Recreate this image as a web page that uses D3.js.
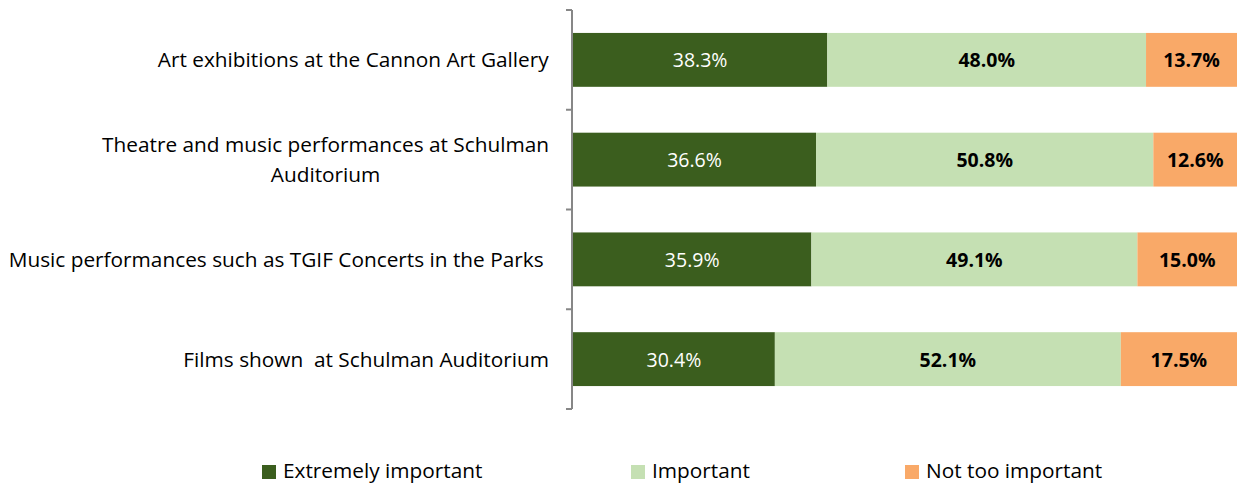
<!DOCTYPE html>
<html>
<head>
<meta charset="utf-8">
<script src="https://cdn.jsdelivr.net/npm/d3@7"></script>
<style>
  html, body { margin: 0; padding: 0; background: #fff; }
  svg { display: block; font-family: "Open Sans", Lato, sans-serif; }
</style>
</head>
<body>
<svg id="chart" width="1239" height="484"></svg>
<script>
// Survey categories (top to bottom)
const categories = [
  ["Art exhibitions at the Cannon Art Gallery"],
  ["Theatre and music performances at Schulman", "Auditorium"],
  ["Music performances such as TGIF Concerts in the Parks\u00a0"],
  ["Films shown\u00a0 at Schulman Auditorium"]
];
const seriesNames = ["Extremely important", "Important", "Not too important"];
const extremelyImportant = [38.3, 36.6, 35.9, 30.4];
const important = [48.0, 50.8, 49.1, 52.1];
const notTooImportant = [13.7, 12.6, 15.0, 17.5];
const colors = ["#3B5E1E", "#C5E0B3", "#F9A968"];

(function draw() {
  const svg = d3.select("#chart");
  const plotLeft = 573, plotRight = 1237, plotTop = 10, plotBottom = 409;

  const rows = categories.map((c, i) => ({
    key: i,
    label: c,
    values: [extremelyImportant[i], important[i], notTooImportant[i]]
  }));

  const x = d3.scaleLinear().domain([0, 100]).range([plotLeft, plotRight]);
  const y = d3.scaleBand().domain(rows.map(r => r.key)).range([plotTop, plotBottom])
    .paddingInner(0.46).paddingOuter(0.23);

  // stacked segments
  const stack = d3.stack().keys([0, 1, 2]).value((d, k) => d.values[k]);
  const layers = stack(rows);

  const g = svg.append("g");
  layers.forEach((layer, k) => {
    g.selectAll(null).data(layer).enter().append("rect")
      .attr("x", d => x(d[0]))
      .attr("y", d => y(d.data.key))
      .attr("width", d => x(d[1]) - x(d[0]))
      .attr("height", y.bandwidth())
      .attr("fill", colors[k]);
    g.selectAll(null).data(layer).enter().append("text")
      .attr("x", d => (x(d[0]) + x(d[1])) / 2)
      .attr("y", d => y(d.data.key) + y.bandwidth() / 2)
      .attr("dy", "0.38em")
      .attr("text-anchor", "middle")
      .attr("font-size", 19.5)
      .attr("font-weight", k === 0 ? "normal" : "bold")
      .attr("fill", k === 0 ? "#ffffff" : "#000000")
      .text(d => d.data.values[k].toFixed(1) + "%");
  });

  // category axis with ticks between rows
  const axisX = 572;
  const tickY = d3.range(rows.length + 1).map(i => plotTop + i * (plotBottom - plotTop) / rows.length);
  const ax = svg.append("g").attr("stroke", "#878787").attr("stroke-width", 2).attr("fill", "none");
  ax.append("line").attr("x1", axisX).attr("x2", axisX).attr("y1", plotTop).attr("y2", plotBottom);
  ax.selectAll(null).data(tickY).enter().append("line")
    .attr("x1", axisX - 6).attr("x2", axisX).attr("y1", d => d).attr("y2", d => d);

  // category labels
  const labels = svg.append("g").attr("font-size", 20.8).attr("fill", "#000");
  rows.forEach(r => {
    const cy = y(r.key) + y.bandwidth() / 2;
    const n = r.label.length;
    const lh = 30;
    const t = labels.append("text").attr("text-anchor", "middle");
    r.label.forEach((line, i) => {
      t.append("tspan")
        .attr("x", 0)
        .attr("y", cy - (n - 1) * lh / 2 + i * lh)
        .attr("dy", "0.36em")
        .text(line);
    });
  });
  // right-align each label block, lines centred within it
  labels.selectAll("text").each(function() {
    const bb = this.getBBox();
    d3.select(this).selectAll("tspan").attr("x", 549 - bb.width / 2);
  });

  // legend
  const legendX = [262, 631, 905];
  const legend = svg.append("g");
  seriesNames.forEach((name, k) => {
    legend.append("rect").attr("x", legendX[k]).attr("y", 465)
      .attr("width", 14).attr("height", 14).attr("fill", colors[k]);
    legend.append("text").attr("x", legendX[k] + 21).attr("y", 471).attr("dy", "0.33em")
      .attr("font-size", 20.8).attr("fill", "#000").text(name);
  });
})();
</script>
</body>
</html>
